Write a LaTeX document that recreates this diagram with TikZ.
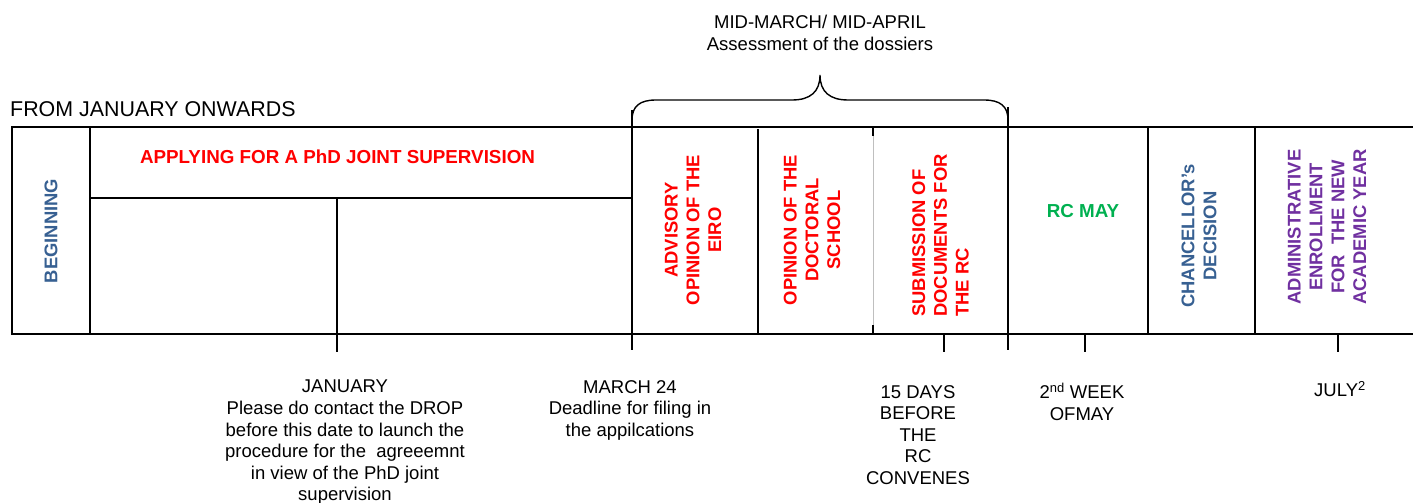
\documentclass[tikz,border=0pt]{standalone}
\usepackage{fontspec}
\setmainfont{Liberation Sans}
\definecolor{myblue}{HTML}{376092}
\definecolor{mygreen}{HTML}{00B050}
\definecolor{mypurple}{HTML}{7030A0}
\definecolor{myred}{HTML}{FF0000}
\begin{document}
\begin{tikzpicture}[x=1pt,y=-1pt,
  frame/.style={line width=1.8pt, black},
  midline/.style={line width=1.4pt, black},
  thinline/.style={line width=1pt, black!25},
  lbl/.style={inner sep=0pt, align=center, font=\fontsize{18.5}{21.6}\selectfont},
  vlbl/.style={inner sep=0pt, rotate=90, font=\bfseries\fontsize{18.4}{21.8}\selectfont},
  hlbl/.style={inner sep=0pt, font=\bfseries\fontsize{18.8}{21.8}\selectfont},
]
\useasboundingbox (0,0) rectangle (1413,503);
% frame
\draw[frame] (1413,127) -- (12,127) -- (12,334) -- (1413,334);
\draw[frame] (90,127) -- (90,334);
\draw[frame] (90,198) -- (632,198);
\draw[frame] (337,198) -- (337,352);
\draw[frame] (632,110) -- (632,350);
\draw[midline] (758,129) -- (758,334);
\draw[thinline] (873,127) -- (873,334);
\draw[frame] (873,127) -- (873,136);
\draw[frame] (873,325) -- (873,334);
\draw[frame] (1008,107) -- (1008,350);
\draw[frame] (1148,127) -- (1148,334);
\draw[frame] (1255,127) -- (1255,334);
% ticks
\draw[frame] (944,334) -- (944,352);
\draw[frame] (1085,334) -- (1085,352);
\draw[frame] (1338,334) -- (1338,352);
% brace
\draw[midline] (632,120) .. controls (632,106) and (640,100) .. (656,100) -- (792,100)
  .. controls (810,100) and (820,92) .. (820,75)
  .. controls (820,92) and (830,100) .. (848,100) -- (984,100)
  .. controls (1000,100) and (1008,106) .. (1008,120);
% top texts
\node[lbl, anchor=base west, font=\fontsize{21.4}{25}\selectfont] (from) at (10,116) {FROM JANUARY ONWARDS};
\node[lbl, anchor=north] (mid) at (820,15) {MID-MARCH/ MID-APRIL\\Assessment of the dossiers};
% header
\node[hlbl, anchor=base, text=myred] (apply) at (337.5,163.5) {APPLYING FOR A PhD JOINT SUPERVISION};
\node[hlbl, anchor=base, text=mygreen] (rcmay) at (1083,217.5) {RC MAY};
% vertical labels
\node[vlbl, text=myblue] (beg) at (51,231) {BEGINNING};
\node[vlbl, text=myred, align=center] (eiro) at (693,230) {ADVISORY\\OPINION OF THE\\EIRO};
\node[vlbl, text=myred, align=center] (doct) at (812,230) {OPINION OF THE\\DOCTORAL\\SCHOOL};
\node[vlbl, text=myred, align=left, anchor=west] (subm) at (940.5,317) {SUBMISSION OF\\DOCUMENTS FOR\\THE RC};
\node[vlbl, text=myblue, align=center] (chanc) at (1199,236) {CHANCELLOR’s\\DECISION};
\node[vlbl, text=mypurple, align=center] (admin) at (1327,227) {ADMINISTRATIVE\\ENROLLMENT\\FOR\ \ THE NEW\\ACADEMIC YEAR};
% bottom labels
\node[lbl, anchor=north] (jan) at (345,380) {JANUARY\\Please do contact the DROP\\before this date to launch the\\procedure for the\ \ agreeemnt\\in view of the PhD joint\\supervision};
\node[lbl, anchor=north] (march) at (630,380) {MARCH 24\\Deadline for filing in\\the appilcations};
\node[lbl, anchor=north] (days) at (918,385) {15 DAYS\\BEFORE\\THE\\RC\\CONVENES};
\node[lbl, anchor=north] (week) at (1082,383) {2\textsuperscript{nd} WEEK\\OFMAY};
\node[lbl, anchor=north] (july) at (1340,381) {JULY\textsuperscript{2}};
\end{tikzpicture}
\end{document}
